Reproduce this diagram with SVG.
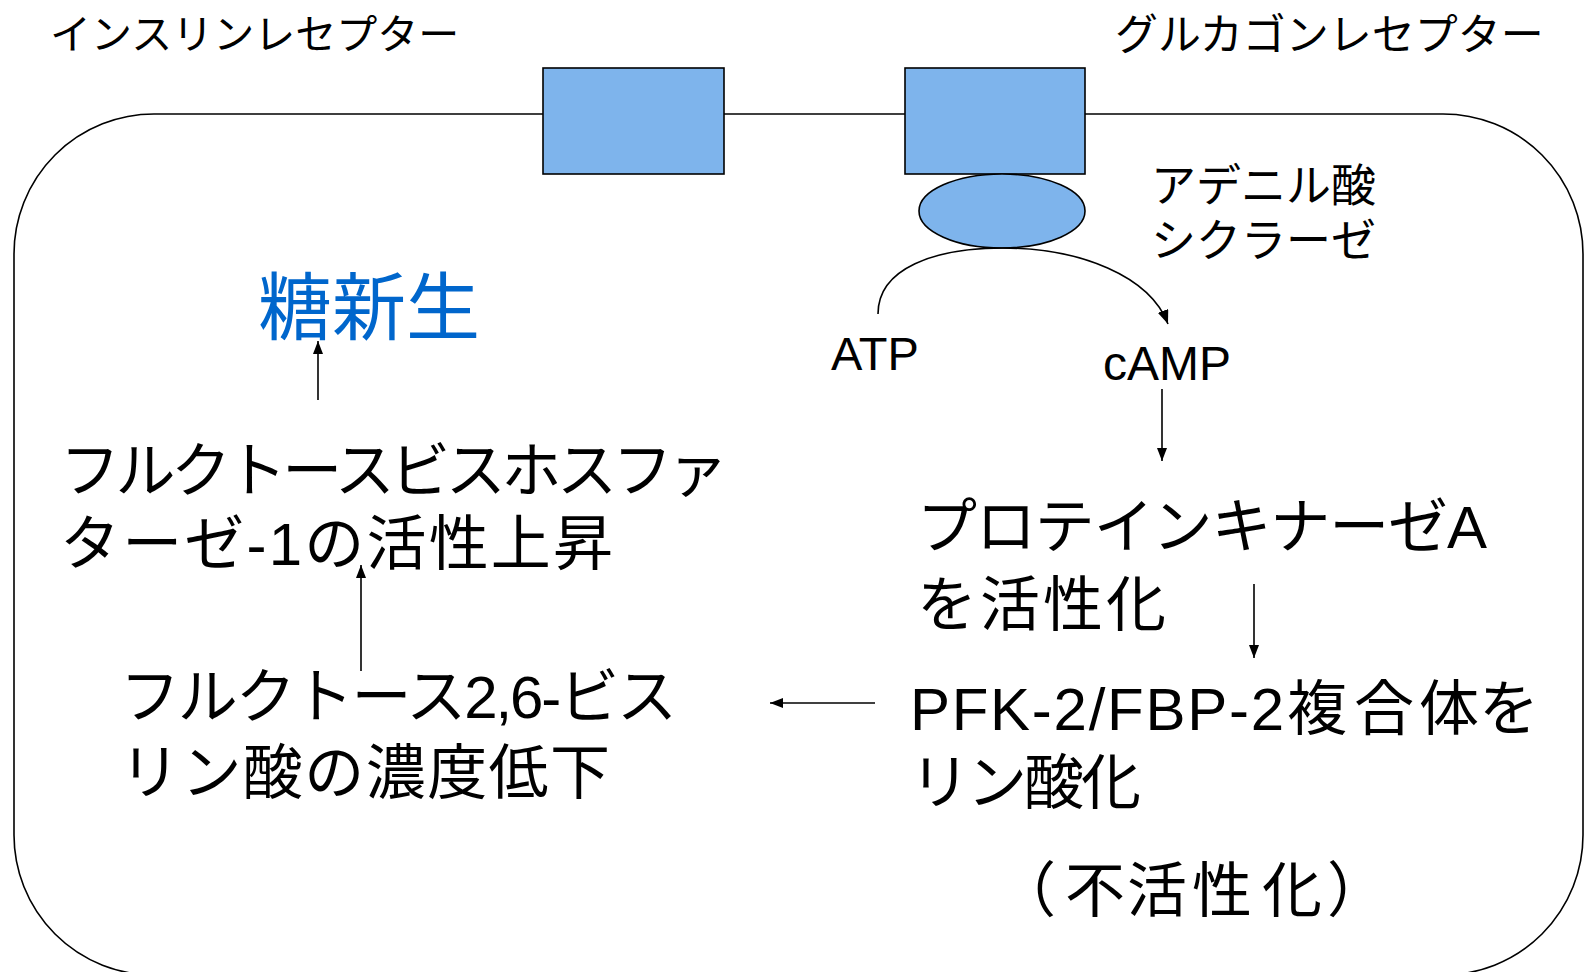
<svg xmlns="http://www.w3.org/2000/svg" width="1586" height="972" viewBox="0 0 1586 972">
<defs>
<style>
.t{font-family:"Liberation Sans","Noto Sans CJK JP",sans-serif;fill:#000}
.s{font-size:41px}
.m{font-size:45px}
.b{font-size:60px}
.blue{font-size:74px;fill:#0066CC}
.ln{stroke:#000;stroke-width:1.6;fill:none}
.rec{fill:#7EB4EC;stroke:#000;stroke-width:1.6}
</style>
<marker id="ah" viewBox="0 0 10 10" refX="10" refY="5" markerWidth="13" markerHeight="10" markerUnits="userSpaceOnUse" orient="auto" preserveAspectRatio="none">
<path d="M0,0 L10,5 L0,10 z" fill="#000"/>
</marker>
<marker id="ah2" viewBox="0 0 10 10" refX="10" refY="5" markerWidth="14" markerHeight="11" markerUnits="userSpaceOnUse" orient="auto" preserveAspectRatio="none">
<path d="M0,0 L10,5 L0,10 z" fill="#000"/>
</marker>
</defs>
<rect width="1586" height="972" fill="#fff"/>
<g id="cell">
<path class="ln" d="M154,114 H1443 A140,140 0 0 1 1583,254 V835 A140,140 0 0 1 1443,975 H154 A140,140 0 0 1 14,835 V254 A140,140 0 0 1 154,114 Z"/>
</g>
<g id="insulin-receptor">
<rect class="rec" x="543" y="68" width="181" height="106"/>
<text class="t s" x="50" y="49">インスリンレセプター</text>
</g>
<g id="glucagon-receptor">
<rect class="rec" x="905" y="68" width="180" height="106"/>
<text class="t s" x="1115" y="50" style="font-size:43px">グルカゴンレセプター</text>
</g>
<g id="adenylate-cyclase">
<ellipse class="rec" cx="1002" cy="211" rx="83" ry="37"/>
<text class="t m" x="1151" y="202">アデニル酸</text>
<text class="t m" x="1151" y="257">シクラーゼ</text>
</g>
<g id="atp"><text class="t" x="831" y="370" style="font-size:47px">ATP</text></g>
<g id="camp"><text class="t" x="1103" y="380" style="font-size:48px">cAMP</text></g>
<g id="gluconeogenesis"><text class="t blue" x="258" y="334">糖新生</text></g>
<g id="fbpase1">
<text class="t b" x="60" y="492" textLength="668" lengthAdjust="spacing">フルクトースビスホスファ</text>
<text class="t b" x="60" y="565" textLength="553" lengthAdjust="spacing">ターゼ-1の活性上昇</text>
</g>
<g id="f26bp">
<text class="t b" x="120" y="718" textLength="557" lengthAdjust="spacing">フルクトース2,6-ビス</text>
<text class="t b" x="120" y="794" textLength="490" lengthAdjust="spacing">リン酸の濃度低下</text>
</g>
<g id="pka">
<text class="t b" x="917" y="548" textLength="570" lengthAdjust="spacing">プロテインキナーゼA</text>
<text class="t b" x="917" y="626" textLength="249" lengthAdjust="spacing">を活性化</text>
</g>
<g id="pfk2">
<text class="t b" x="910" y="730" textLength="374" lengthAdjust="spacing">PFK-2/FBP-2</text>
<text class="t b" x="1287 1354 1419 1479" y="730">複合体を</text>
<text class="t b" x="910" y="804" textLength="231" lengthAdjust="spacing">リン酸化</text>
<text class="t b" x="996 1065 1127 1192 1262 1327" y="912">（不活性化）</text>
</g>
<g id="connectors">
<path class="ln" d="M878,314 C878,268 935,248 1003,248 C1080,248 1150,276 1168,324" marker-end="url(#ah2)"/>
<line class="ln" x1="1162" y1="389" x2="1162" y2="461" marker-end="url(#ah)"/>
<line class="ln" x1="1254" y1="584" x2="1254" y2="658" marker-end="url(#ah)"/>
<line class="ln" x1="875" y1="703" x2="770" y2="703" marker-end="url(#ah)"/>
<line class="ln" x1="361" y1="671" x2="361" y2="565" marker-end="url(#ah)"/>
<line class="ln" x1="318" y1="400" x2="318" y2="341" marker-end="url(#ah)"/>
</g>
</svg>
